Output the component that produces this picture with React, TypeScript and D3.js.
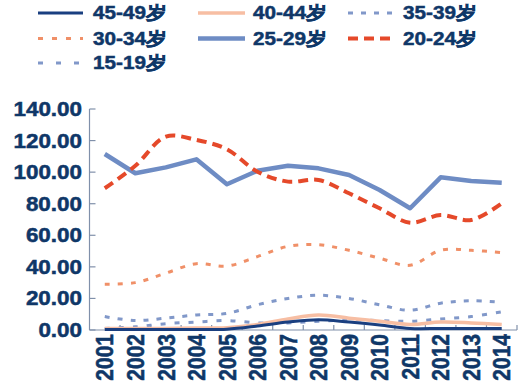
import React from "react";
import * as d3 from "d3";

const years = ["2001","2002","2003","2004","2005","2006","2007","2008","2009","2010","2011","2012","2013","2014"];
const yTicks = [0, 20, 40, 60, 80, 100, 120, 140];

const s4549 = [0.3, 0.3, 0.3, 0.3, 0.5, 2.5, 5, 6.5, 5, 3.2, 1, 1, 1, 1];
const s4044 = [1, 1, 1, 1.2, 1.5, 3.5, 7, 9.5, 7.5, 5.5, 3.5, 5, 4.5, 3.5];
const s3539 = [8.5, 6, 7.5, 9.5, 10.5, 16, 20, 22, 20, 16, 12.5, 17, 18.5, 17.5];
const s3034 = [29, 30, 36, 42, 40.5, 46.5, 53, 54, 50.5, 45.5, 41, 50.5, 50.5, 49];
const s2529 = [111.5, 99.3, 103, 108.1, 92.3, 100.9, 104.1, 102.4, 98.2, 88.7, 77.1, 96.7, 94.4, 93.3];
const s2024 = [89.8, 104, 122.5, 120.4, 114.5, 100.3, 94, 95, 86.6, 77.1, 68, 72.8, 69.7, 80.2];
const s1519 = [1, 2, 4, 5, 6, 4.5, 4.5, 5.5, 6.5, 6, 5.5, 7, 8.5, 11.5];

const seriesNames = ["45-49岁", "40-44岁", "35-39岁", "30-34岁", "25-29岁", "20-24岁", "15-19岁"];
const seriesValues = [s4549, s4044, s3539, s3034, s2529, s2024, s1519];

type Style = { color: string; width: number; dash?: string; smooth: boolean; legendDash?: string };
const styles: Style[] = [
  { color: "#1a3f80", width: 3, smooth: true },
  { color: "#f7bea3", width: 3.5, smooth: true },
  { color: "#8198c9", width: 3, dash: "5,8", smooth: true, legendDash: "5,8" },
  { color: "#f09068", width: 3, dash: "5,8", smooth: true, legendDash: "5,9" },
  { color: "#6e8cc4", width: 4.5, smooth: false },
  { color: "#e5492a", width: 4, dash: "10,6", smooth: true, legendDash: "10,6" },
  { color: "#8198c9", width: 3, dash: "5,9", smooth: true, legendDash: "5,13" },
];

const drawOrder = [6, 2, 3, 1, 0, 4, 5];

const TEXT = "#0f3768";
const AXIS = "#8090aa";
const SX = 1.15;

export default function App() {
  const W = 531, H = 392;
  const x0 = 89.5, x1 = 517, yTop = 109, yBot = 330;
  const x = d3.scaleBand<string>().domain(years).range([x0, x1]);
  const y = d3.scaleLinear().domain([0, 140]).range([yBot, yTop]);
  const cx = (yr: string) => (x(yr) as number) + x.bandwidth() / 2;

  const legendCols = [[38, 83, 93], [198, 245, 253], [348, 395, 403]];
  const legendRows = [13, 38.5, 63];

  return (
    <svg width={W} height={H} style={{ position: "absolute", left: 0, top: 0, background: "#fff" }}
      fontFamily="'Liberation Sans', Arial, sans-serif">
      {/* legend */}
      {seriesNames.map((name, i) => {
        const col = legendCols[i % 3];
        const ry = legendRows[Math.floor(i / 3)];
        const st = styles[i];
        return (
          <g key={name}>
            <line x1={col[0]} x2={col[1]} y1={ry} y2={ry} stroke={st.color}
              strokeWidth={st.width} strokeDasharray={st.legendDash} />
            <text transform={`translate(${col[2]},${ry}) scale(${SX},1)`} dy="0.36em"
              fontSize={18} fontWeight="bold" fill={TEXT} stroke={TEXT} strokeWidth={0.5}>{name}</text>
          </g>
        );
      })}

      {/* y axis */}
      <line x1={x0} x2={x0} y1={yTop} y2={yBot} stroke={AXIS} strokeWidth={1.2} />
      {yTicks.map((t) => (
        <g key={t}>
          <line x1={x0} x2={x0 + 6} y1={y(t)} y2={y(t)} stroke={AXIS} strokeWidth={1.2} />
          <text transform={`translate(82,${y(t)}) scale(${SX},1)`} dy="0.36em" textAnchor="end"
            fontSize={19.5} fontWeight="bold" fill={TEXT} stroke={TEXT} strokeWidth={0.5}>{d3.format(".2f")(t)}</text>
        </g>
      ))}

      {/* x axis */}
      <line x1={x0} x2={x1} y1={yBot} y2={yBot} stroke={AXIS} strokeWidth={1.2} />
      {years.map((yr) => (
        <line key={"t" + yr} x1={(x(yr) as number) + x.bandwidth()} x2={(x(yr) as number) + x.bandwidth()}
          y1={yBot} y2={yBot - 5} stroke={AXIS} strokeWidth={1.2} />
      ))}
      {years.map((yr) => (
        <text key={yr} transform={`translate(${cx(yr)},334) scale(${SX},1) rotate(-90)`} dy="0.36em"
          textAnchor="end" fontSize={21} fontWeight="bold" fill={TEXT} stroke={TEXT} strokeWidth={0.5}>{yr}</text>
      ))}

      {/* series */}
      {drawOrder.map((i) => {
        const st = styles[i];
        const gen = d3.line<number>()
          .x((_, j) => cx(years[j]))
          .y((v) => y(v))
          .curve(st.smooth ? d3.curveCatmullRom.alpha(0.5) : d3.curveLinear);
        return (
          <path key={seriesNames[i]} d={gen(seriesValues[i]) || ""} fill="none" stroke={st.color}
            strokeWidth={st.width} strokeDasharray={st.dash} strokeLinejoin="round" />
        );
      })}
    </svg>
  );
}
